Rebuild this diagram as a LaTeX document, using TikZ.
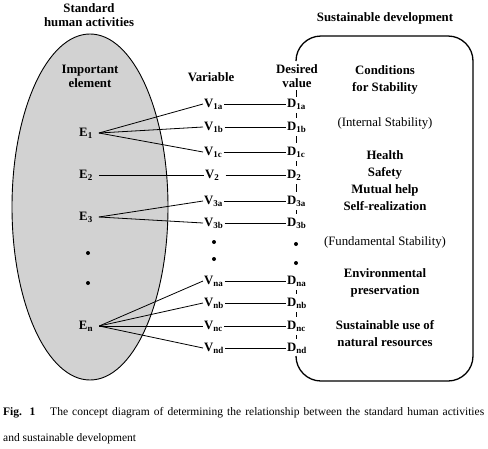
\documentclass[tikz,border=0pt]{standalone}
\usepackage{fontspec}
\setmainfont{Liberation Serif}
\usetikzlibrary{shapes.geometric, positioning}

\begin{document}
\begin{tikzpicture}[
    x=1pt, y=-1pt,
    header/.style={font=\fontsize{12.8}{14}\selectfont\bfseries, align=center, inner sep=1pt},
    cond/.style={font=\fontsize{12.8}{17}\selectfont\bfseries, align=center, inner sep=1pt},
    stab/.style={font=\fontsize{12.8}{17}\selectfont, inner sep=1pt},
    elem/.style={font=\fontsize{12.8}{15}\selectfont\bfseries, inner xsep=6pt, inner ysep=1pt},
    var/.style={font=\fontsize{12.8}{15}\selectfont\bfseries, anchor=west, inner sep=1pt},
    dval/.style={var},
    dotnode/.style={circle, fill=black, inner sep=0pt, minimum size=4pt},
    link/.style={line width=0.8pt},
    tickline/.style={line width=0.8pt, shorten <=3pt, shorten >=3pt},
    sdbox/.style={line width=1.3pt, rounded corners=25pt}
  ]
    \useasboundingbox (0,0) rectangle (488,448);

    % --- Standard human activities (ellipse) ---
    \node[ellipse, draw, line width=0.9pt, fill=gray!35, minimum width=156pt, minimum height=346pt, inner sep=0pt] (acts) at (90,207) {};
    \node[header] (stdhead) at (89,15) {Standard\\human activities};
    \node[header] (imphead) at (90,76) {Important\\element};

    \node[elem] (e1) at (86,133) {E\textsubscript{1}};
    \node[elem] (e2) at (86,175) {E\textsubscript{2}};
    \node[elem] (e3) at (86,217) {E\textsubscript{3}};
    \node[dotnode] (edot1) at (88,253) {};
    \node[dotnode] (edot2) at (88,283) {};
    \node[elem] (en) at (86,326) {E\textsubscript{n}};

    % --- Variables ---
    \node[header] (varhead) at (211,77) {Variable};
    \node[var] (v1a) at (203,104) {V\textsubscript{1a}};
    \node[var] (v1b) at (203,127) {V\textsubscript{1b}};
    \node[var] (v1c) at (203,152) {V\textsubscript{1c}};
    \node[var] (v2) at (204,175) {V\textsubscript{2}};
    \node[var] (v3a) at (203,201) {V\textsubscript{3a}};
    \node[var] (v3b) at (203,223) {V\textsubscript{3b}};
    \node[dotnode] (vdot1) at (214,242) {};
    \node[dotnode] (vdot2) at (214,259) {};
    \node[var] (vna) at (203,281) {V\textsubscript{na}};
    \node[var] (vnb) at (203,303) {V\textsubscript{nb}};
    \node[var] (vnc) at (203,326) {V\textsubscript{nc}};
    \node[var] (vnd) at (203,348) {V\textsubscript{nd}};

    % --- Desired values ---
    \node[header] (dhead) at (297,76) {Desired\\value};
    \node[dval] (d1a) at (286,104) {D\textsubscript{1a}};
    \node[dval] (d1b) at (286,127) {D\textsubscript{1b}};
    \node[dval] (d1c) at (286,152) {D\textsubscript{1c}};
    \node[dval] (d2) at (286,175) {D\textsubscript{2}};
    \node[dval] (d3a) at (286,201) {D\textsubscript{3a}};
    \node[dval] (d3b) at (286,223) {D\textsubscript{3b}};
    \node[dotnode] (ddot1) at (296,244) {};
    \node[dotnode] (ddot2) at (296,263) {};
    \node[dval] (dna) at (286,281) {D\textsubscript{na}};
    \node[dval] (dnb) at (286,303) {D\textsubscript{nb}};
    \node[dval] (dnc) at (286,326) {D\textsubscript{nc}};
    \node[dval] (dnd) at (286,348) {D\textsubscript{nd}};

    % --- Sustainable development (box) ---
    \draw[sdbox] (296,61) |- (473,36) |- (296,381) -- (296,356);
    \node[header] (sdhead) at (385,18) {Sustainable development};
    \node[cond] (c1) at (385,80) {Conditions\\for Stability};
    \node[stab] (c2) at (385,123) {(Internal Stability)};
    \node[cond] (c3) at (385,181) {Health\\Safety\\Mutual help\\Self-realization};
    \node[stab] (c4) at (385,242) {(Fundamental Stability)};
    \node[cond] (c5) at (385,283) {Environmental\\preservation};
    \node[cond] (c6) at (385,334) {Sustainable use of\\natural resources};

    % --- Links E -> V ---
    \draw[link] (e1.east) -- (v1a.west);
    \draw[link] (e1.east) -- (v1b.west);
    \draw[link] (e1.east) -- (v1c.west);
    \draw[link] (e2.east) -- (v2.west);
    \draw[link] (e3.east) -- (v3a.west);
    \draw[link] (e3.east) -- (v3b.west);
    \draw[link] (en.east) -- (vna.west);
    \draw[link] (en.east) -- (vnb.west);
    \draw[link] (en.east) -- (vnc.west);
    \draw[link] (en.east) -- (vnd.west);

    % --- Links V -> D ---
    \draw[link] (v1a.east) -- (d1a.west);
    \draw[link] (v1b.east) -- (d1b.west);
    \draw[link] (v1c.east) -- (d1c.west);
    \draw[link] ([xshift=5pt]v2.east) -- (d2.west);
    \draw[link] (v3a.east) -- (d3a.west);
    \draw[link] (v3b.east) -- (d3b.west);
    \draw[link] (vna.east) -- (dna.west);
    \draw[link] (vnb.east) -- (dnb.west);
    \draw[link] (vnc.east) -- (dnc.west);
    \draw[link] (vnd.east) -- (dnd.west);

    % --- Box edge between D values ---
    \draw[tickline, shorten <=1pt, shorten >=1pt] ([xshift=10pt]d1a.north west) -- ([xshift=10pt]d1a.north west |- dhead.south);
    \draw[tickline] ([xshift=10pt]d1a.south west) -- ([xshift=10pt]d1b.north west);
    \draw[tickline] ([xshift=10pt]d1b.south west) -- ([xshift=10pt]d1c.north west);
    \draw[tickline] ([xshift=10pt]d1c.south west) -- ([xshift=10pt]d2.north west);
    \draw[tickline] ([xshift=10pt]d2.south west) -- ([xshift=10pt]d3a.north west);
    \draw[tickline] ([xshift=10pt]d3a.south west) -- ([xshift=10pt]d3b.north west);
    \draw[tickline] ([xshift=10pt]dna.south west) -- ([xshift=10pt]dnb.north west);
    \draw[tickline] ([xshift=10pt]dnb.south west) -- ([xshift=10pt]dnc.north west);
    \draw[tickline] ([xshift=10pt]dnc.south west) -- ([xshift=10pt]dnd.north west);

    % --- Caption ---
    \node[font=\fontsize{11.5}{26}\selectfont, anchor=base west, align=left, inner sep=0pt] (caption) at (3,441) {\makebox[481pt][s]{\textbf{Fig. 1}\hspace{1.3em}The concept diagram of determining the relationship between the standard human activities}\\and sustainable development};

  \end{tikzpicture}
\end{document}
